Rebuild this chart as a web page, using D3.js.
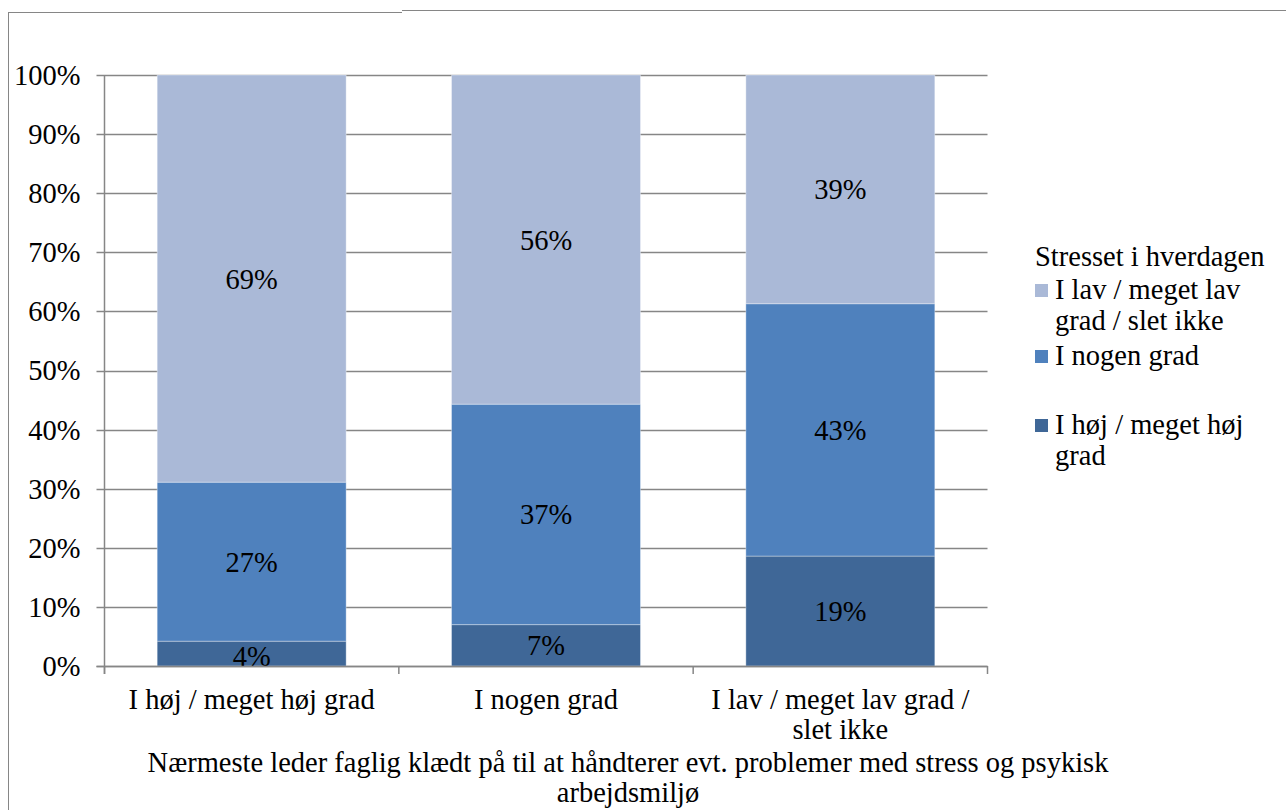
<!DOCTYPE html>
<html>
<head>
<meta charset="utf-8">
<script src="https://cdn.jsdelivr.net/npm/d3@7"></script>
<style>
  body { margin: 0; background: #fff; }
  svg text { font-family: "Liberation Serif", serif; fill: #000; }
</style>
</head>
<body>
<svg width="1286" height="810"></svg>
<script>
// categories on the x axis
const categories = ["I høj / meget høj grad", "I nogen grad", "I lav / meget lav grad / slet ikke"];
// series (bottom to top), percent shares
const seriesNames = ["I høj / meget høj grad", "I nogen grad", "I lav / meget lav grad / slet ikke"];
const hoej = [4.2, 7.0, 18.6];
const nogen = [26.9, 37.3, 42.7];
const lav = [68.9, 55.7, 38.7];
const labels = [["4%", "7%", "19%"], ["27%", "37%", "43%"], ["69%", "56%", "39%"]];
const colors = ["#3F6797", "#4F81BD", "#AAB9D7"];
const yTicks = [0, 10, 20, 30, 40, 50, 60, 70, 80, 90, 100];

const svg = d3.select("svg");
const fs = 28.5;

// outer frame (partly cropped in the original)
svg.append("line").attr("x1", 8.5).attr("x2", 8.5).attr("y1", 12).attr("y2", 810).attr("stroke", "#868686");
svg.append("line").attr("x1", 8).attr("x2", 402).attr("y1", 12.5).attr("y2", 12.5).attr("stroke", "#868686");
svg.append("line").attr("x1", 402).attr("x2", 1286).attr("y1", 10.5).attr("y2", 10.5).attr("stroke", "#868686");

const plotL = 104.5, plotR = 987.5, plotT = 75, plotB = 666;

const x = d3.scaleBand().domain(categories).range([plotL, plotR]).paddingInner(0.358).paddingOuter(0.179);
const y = d3.scaleLinear().domain([0, 100]).range([plotB, plotT]);

// gridlines
svg.append("g").selectAll("line").data(yTicks).join("line")
  .attr("x1", plotL - 8).attr("x2", plotR)
  .attr("y1", d => Math.round(y(d)) + 0.5).attr("y2", d => Math.round(y(d)) + 0.5)
  .attr("stroke", "#868686").attr("stroke-width", 1.5);

// y labels
svg.append("g").selectAll("text").data(yTicks).join("text")
  .attr("x", plotL - 24).attr("y", d => y(d)).attr("dy", "0.35em")
  .attr("text-anchor", "end").attr("font-size", fs)
  .text(d => d + "%");

// stacked bars
const table = categories.map((c, i) => ({ cat: c, s0: hoej[i], s1: nogen[i], s2: lav[i] }));
const stack = d3.stack().keys(["s0", "s1", "s2"])(table);

stack.forEach((layer, k) => {
  const g = svg.append("g");
  g.selectAll("rect").data(layer).join("rect")
    .attr("x", d => x(d.data.cat))
    .attr("width", x.bandwidth())
    .attr("y", d => y(d[1]))
    .attr("height", d => y(d[0]) - y(d[1]))
    .attr("fill", colors[k])
    .attr("stroke", "#fff").attr("stroke-opacity", 0.35).attr("stroke-width", 1);
  g.selectAll("text").data(layer).join("text")
    .attr("x", d => x(d.data.cat) + x.bandwidth() / 2)
    .attr("y", (d, i) => k === 0 && i === 0 ? y(0) - 10 : (y(d[0]) + y(d[1])) / 2)
    .attr("dy", "0.35em")
    .attr("text-anchor", "middle").attr("font-size", fs)
    .text((d, i) => labels[k][i]);
});

// axes lines
svg.append("line").attr("x1", plotL).attr("x2", plotL).attr("y1", plotT).attr("y2", plotB + 8)
  .attr("stroke", "#868686").attr("stroke-width", 1.5);
svg.append("line").attr("x1", plotL - 8).attr("x2", plotR).attr("y1", plotB + 0.5).attr("y2", plotB + 0.5)
  .attr("stroke", "#868686").attr("stroke-width", 1.5);
const step = (plotR - plotL) / categories.length;
svg.append("g").selectAll("line").data(d3.range(categories.length + 1)).join("line")
  .attr("x1", d => plotL + d * step).attr("x2", d => plotL + d * step)
  .attr("y1", plotB).attr("y2", plotB + 8)
  .attr("stroke", "#868686").attr("stroke-width", 1.5);

// category labels
const catLines = [["I høj / meget høj grad"], ["I nogen grad"], ["I lav / meget lav grad /", "slet ikke"]];
categories.forEach((c, i) => {
  const t = svg.append("text").attr("text-anchor", "middle").attr("font-size", fs)
    .attr("x", x(c) + x.bandwidth() / 2).attr("y", 709);
  catLines[i].forEach((l, j) => t.append("tspan").attr("x", x(c) + x.bandwidth() / 2).attr("dy", j ? 30 : 0).text(l));
});

// x axis title
const xt = svg.append("text").attr("text-anchor", "middle").attr("font-size", fs).attr("x", 628).attr("y", 772);
xt.append("tspan").attr("x", 628).text("Nærmeste leder faglig klædt på til at håndterer evt. problemer med stress og psykisk");
xt.append("tspan").attr("x", 628).attr("dy", 30).text("arbejdsmiljø");

// legend
svg.append("text").attr("x", 1035).attr("y", 266).attr("font-size", fs).text("Stresset i hverdagen");
const legendItems = [
  { lines: ["I lav / meget lav", "grad / slet ikke"], color: colors[2], y: 299 },
  { lines: ["I nogen grad"], color: colors[1], y: 365 },
  { lines: ["I høj / meget høj", "grad"], color: colors[0], y: 434 }
];
legendItems.forEach(it => {
  svg.append("rect").attr("x", 1035).attr("y", it.y - 15).attr("width", 13).attr("height", 13).attr("fill", it.color);
  const t = svg.append("text").attr("x", 1055).attr("y", it.y).attr("font-size", fs);
  it.lines.forEach((l, j) => t.append("tspan").attr("x", 1055).attr("dy", j ? 31 : 0).text(l));
});
</script>
</body>
</html>
